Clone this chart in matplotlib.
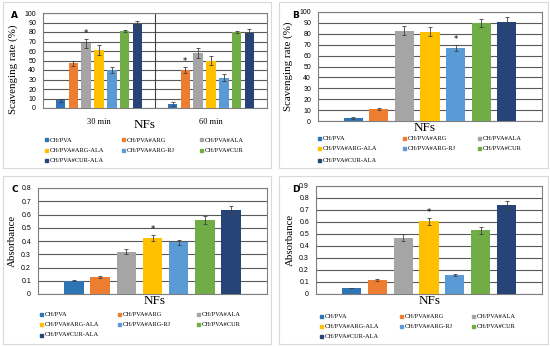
import matplotlib.pyplot as plt
from matplotlib.patches import Rectangle
import numpy as np

plt.rcParams['font.family'] = ['Liberation Serif', 'DejaVu Serif']

# データ
series = ['CH/PVA', 'CH/PVA#ARG', 'CH/PVA#ALA', 'CH/PVA#ARG-ALA',
          'CH/PVA#ARG-RJ', 'CH/PVA#CUR', 'CH/PVA#CUR-ALA']
colors = ['#2E75B6', '#ED7D31', '#A5A5A5', '#FFC000', '#5B9BD5', '#70AD47', '#264478']

a_groups = ['30 min', '60 min']
a_30 = [8, 47, 68, 61, 40, 81, 88]
a_30_err = [2, 3, 5, 5, 3, 1, 4]
a_60 = [4, 40, 58, 50, 32, 80, 79]
a_60_err = [2, 3, 5, 5, 4, 1, 4]
a_star = [(0, 2), (1, 1)]

b_vals = [3, 11, 83, 82, 67, 90, 91]
b_err = [1, 1, 4, 4, 3, 4, 4]
b_star = [(0, 4)]

c_vals = [0.10, 0.13, 0.32, 0.42, 0.39, 0.56, 0.635]
c_err = [0.003, 0.008, 0.02, 0.022, 0.02, 0.03, 0.03]
c_star = [(0, 3)]

d_vals = [0.05, 0.12, 0.47, 0.605, 0.16, 0.53, 0.74]
d_err = [0.004, 0.008, 0.028, 0.03, 0.01, 0.03, 0.035]
d_star = [(0, 3)]

W, H = 550, 347
fig = plt.figure(figsize=(5.5, 3.47), dpi=100)
fig.patch.set_facecolor('white')


def fx(px):
    return px / W


def fy(py):
    return 1 - py / H


# パネル枠
for x0, y0, x1, y1 in [(3, 2, 271, 168), (279, 2, 548, 168),
                       (3, 176, 271, 344), (279, 176, 548, 344)]:
    fig.patches.append(Rectangle((fx(x0), fy(y1)), fx(x1 - x0), (y1 - y0) / H,
                                 transform=fig.transFigure, fill=False,
                                 edgecolor='#d9d9d9', lw=0.8))

pitch = 0.1145
bw = 0.085


def make_panel(box, groups, err, stars, ymax, ystep, ylabel, letter, letter_pos,
               xticklabels=None, label_xy=None):
    x0, y0, x1, y1 = box
    ax = fig.add_axes([fx(x0), fy(y1), fx(x1 - x0), (y1 - y0) / H])
    ng = len(groups)
    offs = (np.arange(len(series)) - 3) * pitch
    for s in range(len(series)):
        vals = [g[s] for g in groups]
        errs = [e[s] for e in err]
        ax.bar(np.arange(ng) + offs[s], vals, bw, color=colors[s], zorder=3,
               yerr=errs, error_kw=dict(ecolor='#404040', elinewidth=0.6,
                                        capsize=1.2, capthick=0.6))
    for g, s in stars:
        ax.text(g + offs[s], groups[g][s] + err[g][s] + ymax * 0.01, '*',
                ha='center', va='bottom', fontsize=6, family='DejaVu Sans',
                zorder=4)
    ax.set_xlim(-0.5, ng - 0.5)
    ax.set_ylim(0, ymax)
    ticks = np.arange(0, ymax + ystep / 2, ystep)
    ax.set_yticks(ticks)
    if ystep >= 1:
        ax.set_yticklabels([f'{t:.0f}' for t in ticks])
    else:
        ax.set_yticklabels(['0'] + [f'{t:.1f}' for t in ticks[1:]])
    for lab in ax.get_yticklabels():
        lab.set_family('Liberation Sans')
    ax.yaxis.grid(True, color='#595959', lw=0.8, zorder=0)
    ax.tick_params(axis='y', labelsize=5, length=0, pad=5)
    if xticklabels:
        ax.set_xticks(range(ng))
        ax.set_xticklabels(xticklabels, fontsize=6)
        ax.tick_params(axis='x', length=0, pad=7)
        for g in range(ng - 1):
            ax.axvline(g + 0.5, color='#404040', lw=0.8, zorder=2)
    else:
        ax.set_xticks([])
    for sp in ax.spines.values():
        sp.set_color('#7f7f7f')
        sp.set_linewidth(0.8)
    ax.set_ylabel(ylabel, fontsize=7.8, labelpad=3)
    if label_xy:
        ax.yaxis.set_label_coords(*label_xy)
    fig.text(fx(letter_pos[0]), fy(letter_pos[1]), letter, fontsize=6.5,
             fontweight='bold', family='DejaVu Sans', ha='left', va='center')
    return ax


def legend(cols, rows, title_xy):
    fig.text(fx(title_xy[0]), fy(title_xy[1]), 'NFs', fontsize=9.5,
             ha='center', va='center')
    for i, name in enumerate(series):
        cx = cols[i % 3]
        cy = rows[i // 3]
        fig.patches.append(Rectangle((fx(cx), fy(cy + 1.5)), fx(3), 3 / H,
                                     transform=fig.transFigure,
                                     color=colors[i]))
        fig.text(fx(cx + 4.5), fy(cy), name, fontsize=4.6, ha='left', va='center')


make_panel((43, 13, 267, 108), [a_30, a_60], [a_30_err, a_60_err], a_star,
           100, 10, 'Scavenging rate (%)', 'A', (11, 15), xticklabels=a_groups,
           label_xy=(-0.11, 0.41))
legend([45, 122, 200], [140, 150, 160], (145, 125))

make_panel((318, 12, 542, 121), [b_vals], [b_err], b_star,
           100, 10, 'Scavenging rate (%)', 'B', (292, 15),
           label_xy=(-0.11, 0.5))
legend([318, 403, 478], [138, 149, 160], (425, 128))

make_panel((38, 188, 267, 294), [c_vals], [c_err], c_star,
           0.8, 0.1, 'Absorbance', 'C', (11, 190))
legend([40, 118, 197], [314, 324, 335], (155, 301))

make_panel((316, 186, 542, 294), [d_vals], [d_err], d_star,
           0.9, 0.1, 'Absorbance', 'D', (292, 189))
legend([320, 400, 472], [316, 326, 336], (430, 301))

fig.savefig('out.png', dpi=100)
